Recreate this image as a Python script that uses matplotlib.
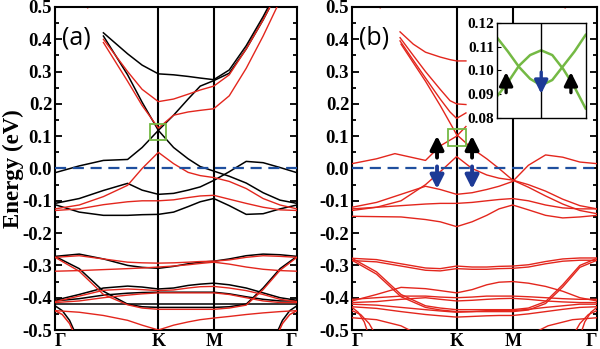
import matplotlib.pyplot as plt
import numpy as np
from matplotlib.patches import Rectangle
from matplotlib.ticker import MultipleLocator
from matplotlib.transforms import blended_transform_factory

plt.rcParams['font.family'] = ['Liberation Serif', 'DejaVu Serif']
plt.rcParams['font.weight'] = 'bold'
plt.rcParams['axes.unicode_minus'] = False

RED = '#e3261d'
BLUE = '#1f4f9e'
NAVY = '#1d3a96'
GREEN = '#74b944'
n = np.nan

# high symmetry points, as a fraction of the path
K_PT, M_PT = 0.427, 0.656
XTICKS = [0, K_PT, M_PT, 1]
XLABELS = ['Γ', 'K', 'M', 'Γ']
XLABEL_HA = ['left', 'center', 'center', 'right']
YTICKS = [0.5, 0.4, 0.3, 0.2, 0.1, 0.0, -0.1, -0.2, -0.3, -0.4, -0.5]

# common k grid the bands are read on
KG = [0, 0.1, 0.2, 0.3, 0.36, K_PT, 0.49, 0.55, 0.6, M_PT, 0.72, 0.79, 0.86, 0.93, 1.0]
# short grid for the cut bands of panel (b)
KT = [0.196, 0.25, 0.3, 0.36, 0.4, K_PT, 0.465]

# ---- panel (a), black bands
a_black = [
    [n, n, 0.42, 0.355, 0.32, 0.293, 0.29, 0.285, 0.28, 0.275, 0.305, 0.38, 0.47, 0.57, n],
    [n, n, 0.41, 0.29, 0.205, 0.118, 0.065, 0.03, 0.006, -0.008, -0.024, -0.045, -0.075, -0.098, -0.108],
    [-0.013, 0.008, 0.025, 0.028, 0.065, 0.118, 0.165, 0.215, 0.255, 0.272, 0.295, 0.37, 0.46, 0.56, n],
    [-0.108, -0.093, -0.068, -0.046, -0.067, -0.08, -0.077, -0.067, -0.057, -0.037, -0.01, 0.022, 0.018, 0.003, -0.013],
    [-0.112, -0.135, -0.145, -0.145, -0.143, -0.142, -0.135, -0.118, -0.103, -0.093, -0.115, -0.142, -0.14, -0.125, -0.113],
    [-0.272, -0.265, -0.28, -0.3, -0.306, -0.309, -0.303, -0.295, -0.29, -0.287, -0.28, -0.27, -0.265, -0.267, -0.272],
    [-0.272, -0.31, -0.38, -0.42, -0.428, -0.43, -0.43, -0.43, -0.43, -0.43, -0.428, -0.42, -0.37, -0.31, -0.272],
    [-0.408, -0.39, -0.37, -0.364, -0.367, -0.373, -0.37, -0.362, -0.358, -0.355, -0.36, -0.37, -0.385, -0.4, -0.408],
    [-0.41, -0.403, -0.392, -0.386, -0.384, -0.383, -0.383, -0.383, -0.383, -0.383, -0.388, -0.397, -0.405, -0.41, -0.41],
]
a_black_flat = -0.419
a_black_arc = ([0, 0.03, 0.06, 0.09], [-0.425, -0.44, -0.47, -0.52])

# ---- panel (a), red bands
a_red = [
    [n, n, 0.40, 0.30, 0.245, 0.207, 0.215, 0.23, 0.243, 0.255, 0.29, 0.37, 0.46, 0.56, n],
    [n, n, 0.39, 0.27, 0.195, 0.125, 0.165, 0.175, 0.18, 0.185, 0.225, 0.31, 0.41, 0.52, n],
    [-0.125, -0.113, -0.087, -0.052, 0.0, 0.05, 0.015, -0.012, -0.022, -0.028, -0.04, -0.062, -0.093, -0.113, -0.125],
    [-0.13, -0.125, -0.112, -0.103, -0.1, -0.1, -0.097, -0.09, -0.085, -0.083, -0.095, -0.108, -0.12, -0.128, -0.13],
    [-0.275, -0.27, -0.28, -0.29, -0.292, -0.293, -0.292, -0.29, -0.288, -0.287, -0.283, -0.275, -0.27, -0.272, -0.275],
    [-0.318, -0.316, -0.313, -0.31, -0.308, -0.305, -0.302, -0.298, -0.294, -0.29, -0.296, -0.305, -0.312, -0.316, -0.318],
    [-0.275, -0.318, -0.39, -0.422, -0.432, -0.436, -0.436, -0.436, -0.436, -0.436, -0.432, -0.423, -0.375, -0.315, -0.275],
    [-0.412, -0.395, -0.377, -0.373, -0.375, -0.378, -0.376, -0.37, -0.366, -0.365, -0.37, -0.378, -0.39, -0.405, -0.412],
    [-0.415, -0.41, -0.4, -0.392, -0.388, -0.385, -0.385, -0.385, -0.385, -0.385, -0.39, -0.4, -0.41, -0.415, -0.415],
    [-0.44, -0.445, -0.455, -0.47, -0.485, -0.5, -0.485, -0.475, -0.468, -0.463, -0.458, -0.452, -0.447, -0.443, -0.44],
]
a_red_arc = ([0, 0.03, 0.06, 0.085], [-0.44, -0.452, -0.48, -0.52])
a_red_tip = ([0.11, 0.135, 0.16], [0.52, 0.497, 0.52])

# ---- panel (b), all red
b_cut = [
    [0.423, 0.385, 0.36, 0.345, 0.337, 0.333, 0.333],
    [0.405, 0.35, 0.30, 0.245, 0.21, 0.20, 0.198],
    [0.395, 0.335, 0.28, 0.215, 0.175, 0.155, 0.172],
]
b_up_k = [0, 0.1, 0.175, 0.3, 0.36, K_PT, 0.465]
b_up_e = [0.015, 0.03, 0.046, 0.025, 0.07, 0.10, 0.13]
b_red = [
    [n, n, 0.385, 0.27, 0.195, 0.105, 0.062, 0.03, 0.0, -0.036, -0.058, -0.085, -0.11, -0.13, -0.14],
    [-0.13, -0.12, -0.1, -0.05, -0.01, 0.037, 0.0, -0.02, -0.03, -0.036, -0.05, -0.07, -0.095, -0.115, -0.125],
    [-0.12, -0.105, -0.08, -0.055, -0.065, -0.08, -0.075, -0.065, -0.055, -0.04, 0.01, 0.042, 0.035, 0.02, 0.015],
    [-0.125, -0.12, -0.115, -0.11, -0.108, -0.108, -0.105, -0.1, -0.096, -0.093, -0.1, -0.113, -0.122, -0.125, -0.125],
    [-0.148, -0.149, -0.15, -0.158, -0.165, -0.18, -0.165, -0.145, -0.125, -0.113, -0.128, -0.145, -0.153, -0.15, -0.145],
    [-0.278, -0.282, -0.295, -0.308, -0.31, -0.302, -0.305, -0.305, -0.303, -0.302, -0.298, -0.288, -0.28, -0.277, -0.277],
    [-0.285, -0.289, -0.302, -0.315, -0.317, -0.31, -0.312, -0.312, -0.31, -0.309, -0.305, -0.295, -0.287, -0.284, -0.284],
    [-0.278, -0.32, -0.39, -0.425, -0.432, -0.437, -0.437, -0.437, -0.437, -0.437, -0.432, -0.412, -0.36, -0.30, -0.278],
    [-0.284, -0.327, -0.397, -0.43, -0.438, -0.443, -0.443, -0.443, -0.443, -0.443, -0.438, -0.418, -0.367, -0.306, -0.284],
    [-0.41, -0.39, -0.368, -0.372, -0.378, -0.385, -0.375, -0.36, -0.352, -0.35, -0.355, -0.365, -0.38, -0.40, -0.41],
    [-0.405, -0.40, -0.395, -0.395, -0.398, -0.40, -0.398, -0.395, -0.395, -0.395, -0.397, -0.40, -0.403, -0.405, -0.405],
    [-0.415, -0.412, -0.405, -0.40, -0.405, -0.41, -0.408, -0.405, -0.403, -0.402, -0.405, -0.41, -0.413, -0.415, -0.415],
    [-0.42, -0.423, -0.43, -0.437, -0.441, -0.445, -0.443, -0.44, -0.44, -0.44, -0.436, -0.43, -0.425, -0.42, -0.42],
    [-0.428, -0.433, -0.443, -0.452, -0.456, -0.46, -0.458, -0.456, -0.455, -0.455, -0.45, -0.443, -0.436, -0.43, -0.428],
]
b_arcs = [
    ([0, 0.025, 0.05, 0.07], [-0.43, -0.445, -0.475, -0.52]),
    ([0, 0.035, 0.07, 0.1], [-0.44, -0.452, -0.48, -0.52]),
    ([0, 0.1, 0.2, 0.26], [-0.462, -0.468, -0.487, -0.51]),
]
b_tips = [
    ([0.09, 0.115, 0.14], [0.52, 0.497, 0.52]),
    ([0.84, 0.87, 0.90], [0.52, 0.497, 0.52]),
    ([0.855, 0.885, 0.915], [0.525, 0.499, 0.525]),
]

# inset: zoom of the crossing in (b)
INS_X = [-1, -0.75, -0.5, -0.25, 0, 0.25, 0.5, 0.75, 1]
INS_U = [0.114, 0.108, 0.1015, 0.0965, 0.0937, 0.096, 0.102, 0.108, 0.115]
INS_C = [0.089, 0.095, 0.102, 0.1065, 0.1085, 0.1065, 0.1005, 0.093, 0.084]


def setup(ax):
    ax.set_xlim(0, 1)
    ax.set_ylim(-0.5, 0.5)
    ax.set_yticks(YTICKS)
    ax.set_yticklabels(['%.1f' % v for v in YTICKS], fontweight='bold')
    ax.yaxis.set_minor_locator(MultipleLocator(0.05))
    ax.set_xticks([])
    ax.tick_params(axis='y', which='both', direction='in', left=True, right=True,
                   width=1.3, labelsize=13.5, pad=2)
    ax.tick_params(axis='y', which='major', length=5)
    ax.tick_params(axis='y', which='minor', length=3)
    for s in ax.spines.values():
        s.set_linewidth(1.5)
    for k in (K_PT, M_PT):
        ax.axvline(k, color='black', lw=1.5, zorder=1)
    ax.axhline(0, color=BLUE, lw=1.6, ls=(0, (5, 3)), zorder=5)
    # k-point labels, baseline a few pixels above the figure bottom
    tr = blended_transform_factory(ax.transData, fig.transFigure)
    for k, lab, ha in zip(XTICKS, XLABELS, XLABEL_HA):
        ax.text(k, 3.5 / 349, lab, transform=tr, ha=ha, va='baseline',
                fontsize=13, fontweight='bold')


def up_down_arrow(ax, k, e0, e1, color, lw=2.8):
    ax.annotate('', xy=(k, e1), xytext=(k, e0),
                arrowprops=dict(arrowstyle='-|>,head_width=0.4,head_length=0.8',
                                lw=lw, color=color, mutation_scale=10), zorder=7)


fig = plt.figure(figsize=(6.0, 3.49), dpi=100)
axa = fig.add_axes([0.0917, 0.0544, 0.4033, 0.9256])
axb = fig.add_axes([0.5867, 0.0544, 0.4083, 0.9256])

# panel (a)
for e in a_black:
    axa.plot(KG, e, color='black', lw=1.1, zorder=3)
axa.plot([0, 1], [a_black_flat, a_black_flat], color='black', lw=1.1, zorder=3)
for e in a_red:
    axa.plot(KG, e, color=RED, lw=1.0, zorder=4)
for arc, c in ((a_black_arc, 'black'), (a_red_arc, RED)):
    axa.plot(arc[0], arc[1], color=c, lw=1.1, zorder=3)
    axa.plot(1 - np.array(arc[0]), arc[1], color=c, lw=1.1, zorder=3)
axa.plot(a_red_tip[0], a_red_tip[1], color=RED, lw=1.0)
setup(axa)
axa.set_ylabel('Energy (eV)', fontsize=16.5, fontweight='bold', labelpad=-1)
axa.add_patch(Rectangle((K_PT - 0.033, 0.087), 0.066, 0.05, fill=False,
                        ec=GREEN, lw=1.3, zorder=6))
axa.text(0.03, 0.405, '(a)', family='Open Sans', weight='normal', fontsize=18,
         va='center', ha='left')

# panel (b)
for e in b_cut:
    axb.plot(KT, e, color=RED, lw=1.0, zorder=4)
axb.plot(b_up_k, b_up_e, color=RED, lw=1.0, zorder=4)
for e in b_red:
    axb.plot(KG, e, color=RED, lw=1.0, zorder=4)
for arc in b_arcs:
    axb.plot(arc[0], arc[1], color=RED, lw=1.0, zorder=4)
    axb.plot(1 - np.array(arc[0]), arc[1], color=RED, lw=1.0, zorder=4)
for tip in b_tips:
    axb.plot(tip[0], tip[1], color=RED, lw=1.0)
setup(axb)
axb.add_patch(Rectangle((K_PT - 0.037, 0.071), 0.074, 0.052, fill=False,
                        ec=GREEN, lw=1.3, zorder=6))
axb.text(0.03, 0.405, '(b)', family='Open Sans', weight='normal', fontsize=18,
         va='center', ha='left')
for k in (0.347, 0.49):
    up_down_arrow(axb, k, 0.025, 0.11, 'black')
    up_down_arrow(axb, k, 0.015, -0.072, NAVY)

# inset
axi = fig.add_axes([0.828, 0.662, 0.148, 0.272])
axi.plot(INS_X, INS_U, color=GREEN, lw=1.8)
axi.plot(INS_X, INS_C, color=GREEN, lw=1.8)
axi.axvline(0, color='black', lw=1.0)
axi.set_xlim(-1, 1)
axi.set_ylim(0.08, 0.12)
axi.set_yticks([0.08, 0.09, 0.10, 0.11, 0.12])
axi.set_yticklabels(['0.08', '0.09', '0.10', '0.11', '0.12'], fontweight='bold')
axi.set_xticks([])
axi.tick_params(axis='y', direction='in', length=3, labelsize=11, pad=2)
for s in axi.spines.values():
    s.set_linewidth(1.0)
for k in (-0.79, 0.67):
    up_down_arrow(axi, k, 0.0895, 0.1005, 'black', lw=2.4)
up_down_arrow(axi, 0.0, 0.1005, 0.089, NAVY, lw=2.4)

fig.savefig('out.png', dpi=100)
